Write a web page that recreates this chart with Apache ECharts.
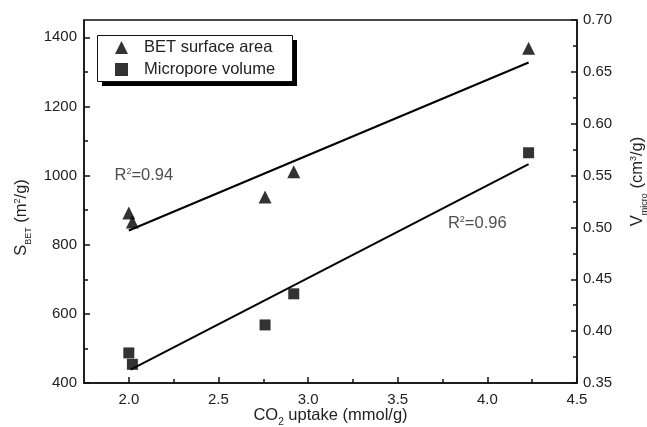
<!DOCTYPE html>
<html>
<head>
<meta charset="utf-8">
<script src="https://cdn.jsdelivr.net/npm/echarts@6/dist/echarts.min.js"></script>
<style>html,body{margin:0;padding:0;background:#fff}#c{width:647px;height:427px}</style>
</head>
<body>
<div id="c"></div>
<script>
// Data
var co2Uptake = [2.00, 2.02, 2.76, 2.92, 4.23];
var betArea = [892, 866, 938, 1011, 1368];
var microVolume = [0.379, 0.368, 0.406, 0.436, 0.572];
var betFitX = [2.00, 4.23];
var betFitY = [841, 1327];
var microFitX = [2.01, 4.23];
var microFitY = [0.363, 0.561];
var xTickLabels = [2.0, 2.5, 3.0, 3.5, 4.0, 4.5];
var xMinorTicks = [2.25, 2.75, 3.25, 3.75, 4.25];
var leftTickLabels = [400, 600, 800, 1000, 1200, 1400];
var leftMinorTicks = [500, 700, 900, 1100, 1300];
var r2Labels = [
  {x: 1.92, y: 1000, text: '0.94'},
  {x: 3.78, y: 861, text: '0.96'}
];

function pairs(xs, ys) { return xs.map(function (x, i) { return [x, ys[i]]; }); }

var FONT = 'Liberation Sans, Arial, sans-serif';
var INK = '#111';
var TXT = '#222';
var lineStyle = {color: INK, width: 1.5};

var chart = echarts.init(document.getElementById('c'));
chart.setOption({
  animation: false,
  backgroundColor: '#fff',
  textStyle: {fontFamily: FONT, color: TXT},
  grid: {left: 84, right: 70, top: 20, bottom: 44, show: true, borderColor: INK, borderWidth: 1.5,
    backgroundColor: 'transparent', outerBoundsMode: 'none', containLabel: false},
  graphic: [{
    type: 'rect', left: 102, top: 40, z: 90,
    shape: {width: 195, height: 46}, style: {fill: '#000'}
  }, {
    type: 'rect', left: 97, top: 35, z: 91,
    shape: {width: 195, height: 46}, style: {fill: '#fff', stroke: INK, lineWidth: 1}
  }],
  legend: {
    data: ['BET surface area', 'Micropore volume'],
    orient: 'vertical', left: 97, top: 35, z: 100,
    itemWidth: 13, itemHeight: 13, itemGap: 5,
    padding: [4, 9, 4, 18],
    backgroundColor: 'transparent',
    textStyle: {fontFamily: FONT, fontSize: 16.5, color: TXT, padding: [0, 0, 0, 11]}
  },
  xAxis: [{
    type: 'value', min: 1.75, max: 4.5, position: 'bottom',
    axisLine: {show: true, lineStyle: lineStyle},
    axisTick: {show: true, inside: true, length: 6, lineStyle: lineStyle, customValues: xTickLabels},
    axisLabel: {fontFamily: FONT, fontSize: 15, color: TXT, margin: 9, customValues: xTickLabels,
      formatter: function (v) { return v.toFixed(1); }},
    splitLine: {show: false},
    name: '{n|CO}{sub|2}{n| uptake (mmol/g)}', nameLocation: 'middle', nameGap: 24,
    nameMoveOverlap: false,
    nameTextStyle: {rich: {
      n: {fontFamily: FONT, fontSize: 16.5, color: TXT},
      sub: {fontFamily: FONT, fontSize: 10, color: TXT, verticalAlign: 'bottom', padding: [0, 0, -3, 0]}
    }}
  }, {
    type: 'value', min: 1.75, max: 4.5, position: 'bottom',
    axisLine: {show: false},
    axisTick: {show: true, inside: true, length: 4, lineStyle: lineStyle, customValues: xMinorTicks},
    axisLabel: {show: false}, splitLine: {show: false}
  }],
  yAxis: [{
    type: 'value', min: 400, max: 1450, position: 'left',
    axisLine: {show: true, lineStyle: lineStyle},
    axisTick: {show: true, inside: true, length: 6, lineStyle: lineStyle, customValues: leftTickLabels},
    axisLabel: {fontFamily: FONT, fontSize: 15, color: TXT, margin: 7, customValues: leftTickLabels,
      formatter: function (v) { return String(v); }},
    splitLine: {show: false},
    name: '{n|S}{sub|BET}{n| (m}{sup|2}{n|/g)}', nameLocation: 'middle', nameGap: 50,
    nameTextStyle: {padding: [0, 32, 0, 0], rich: {
      n: {fontFamily: FONT, fontSize: 16.5, color: TXT},
      sub: {fontFamily: FONT, fontSize: 9, color: TXT, verticalAlign: 'bottom', padding: [0, 0, -3, 0]},
      sup: {fontFamily: FONT, fontSize: 9, color: TXT, verticalAlign: 'top'}
    }}
  }, {
    type: 'value', min: 0.35, max: 0.70, interval: 0.05, position: 'right',
    axisLine: {show: true, lineStyle: lineStyle},
    axisTick: {show: true, inside: true, length: 6, lineStyle: lineStyle},
    minorTick: {show: true, splitNumber: 2, length: 4, lineStyle: lineStyle},
    axisLabel: {fontFamily: FONT, fontSize: 15, color: TXT, margin: 6,
      formatter: function (v) { return v.toFixed(2); }},
    splitLine: {show: false}, minorSplitLine: {show: false},
    name: '{n|V}{sub|micro}{n| (cm}{sup|3}{n|/g)}', nameLocation: 'middle', nameGap: 52,
    nameTextStyle: {padding: [0, 0, 0, 40], rich: {
      n: {fontFamily: FONT, fontSize: 16.5, color: TXT},
      sub: {fontFamily: FONT, fontSize: 9, color: TXT, verticalAlign: 'bottom', padding: [0, 0, -3, 0]},
      sup: {fontFamily: FONT, fontSize: 9, color: TXT, verticalAlign: 'top'}
    }}
  }, {
    type: 'value', min: 400, max: 1450, position: 'left',
    axisLine: {show: false},
    axisTick: {show: true, inside: true, length: 4, lineStyle: lineStyle, customValues: leftMinorTicks},
    axisLabel: {show: false}, splitLine: {show: false}
  }],
  series: [{
    name: 'BET surface area', type: 'scatter', xAxisIndex: 0, yAxisIndex: 0,
    symbol: 'triangle', symbolSize: 13, itemStyle: {color: '#000'},
    data: pairs(co2Uptake, betArea), z: 5
  }, {
    name: 'Micropore volume', type: 'scatter', xAxisIndex: 0, yAxisIndex: 1,
    symbol: 'rect', symbolSize: 11, itemStyle: {color: '#000'},
    data: pairs(co2Uptake, microVolume), z: 5
  }, {
    name: 'BET fit', type: 'line', xAxisIndex: 0, yAxisIndex: 0,
    showSymbol: false, symbol: 'none', lineStyle: {color: '#000', width: 2},
    data: pairs(betFitX, betFitY)
  }, {
    name: 'Micro fit', type: 'line', xAxisIndex: 0, yAxisIndex: 1,
    showSymbol: false, symbol: 'none', lineStyle: {color: '#000', width: 2},
    data: pairs(microFitX, microFitY)
  }, {
    name: 'R2', type: 'scatter', xAxisIndex: 0, yAxisIndex: 0,
    symbolSize: 0, silent: true,
    data: r2Labels.map(function (d) { return {value: [d.x, d.y], text: d.text}; }),
    label: {
      show: true, position: 'right', distance: 0,
      formatter: function (p) { return '{n|R}{sup|2}{n|=' + p.data.text + '}'; },
      rich: {
        n: {fontFamily: FONT, fontSize: 16.5, color: TXT},
        sup: {fontFamily: FONT, fontSize: 9, color: TXT, verticalAlign: 'top'}
      }
    }
  }]
});
</script>
</body>
</html>
